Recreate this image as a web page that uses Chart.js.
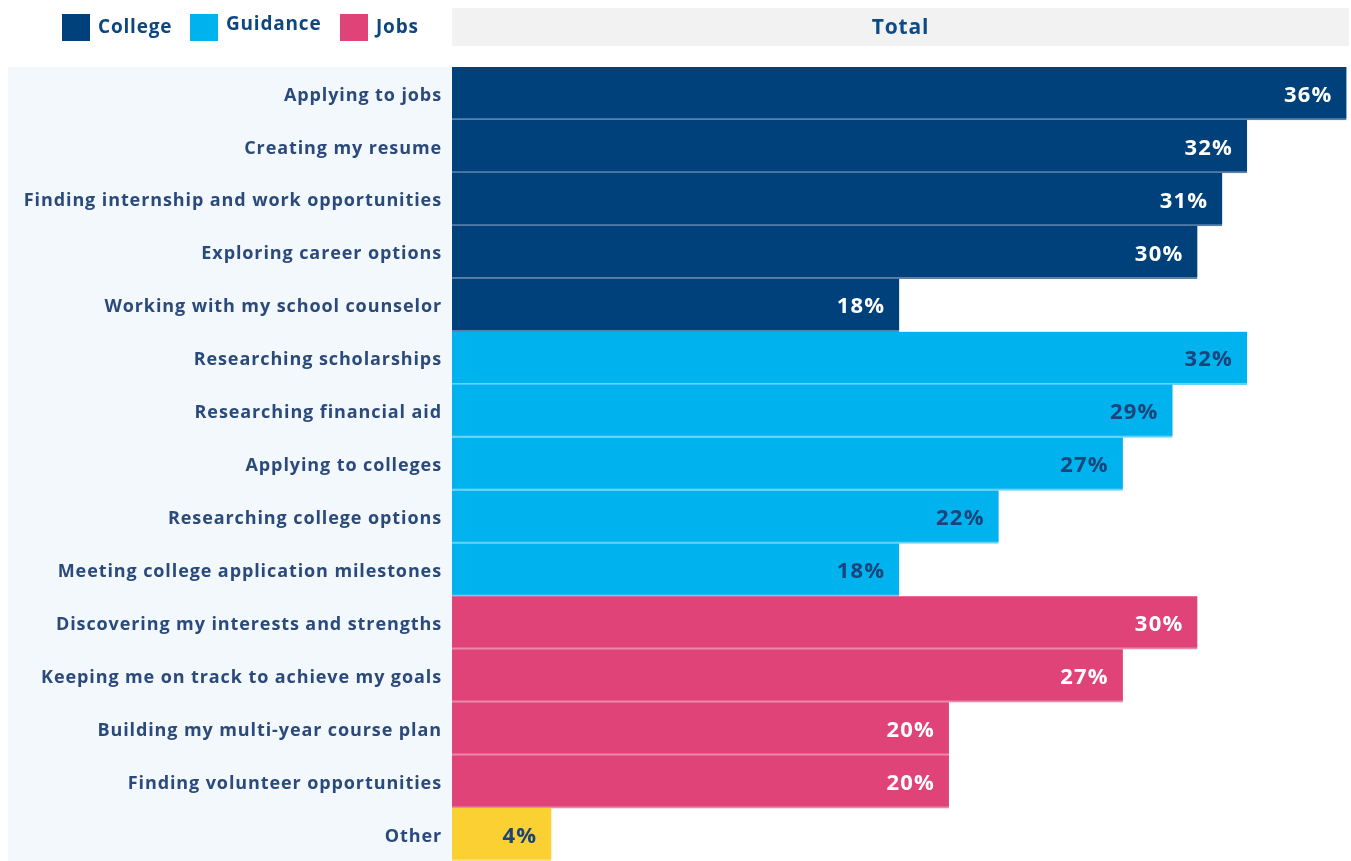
<!DOCTYPE html>
<html>
<head>
<meta charset="utf-8">
<script src="https://cdn.jsdelivr.net/npm/chart.js@4/dist/chart.umd.min.js"></script>
<style>
  html, body { margin: 0; padding: 0; background: #ffffff; overflow: hidden; }
  #wrap { width: 1351px; height: 861px; position: relative; }
</style>
</head>
<body>
<div id="wrap"><canvas id="chart" width="1351" height="861"></canvas></div>
<script>
// Survey topics, one bar each, grouped by theme
const categories = [
  'Applying to jobs',
  'Creating my resume',
  'Finding internship and work opportunities',
  'Exploring career options',
  'Working with my school counselor',
  'Researching scholarships',
  'Researching financial aid',
  'Applying to colleges',
  'Researching college options',
  'Meeting college application milestones',
  'Discovering my interests and strengths',
  'Keeping me on track to achieve my goals',
  'Building my multi-year course plan',
  'Finding volunteer opportunities',
  'Other'
];
const totals = [36, 32, 31, 30, 18, 32, 29, 27, 22, 18, 30, 27, 20, 20, 4];
const groups = ['College', 'College', 'College', 'College', 'College',
  'Guidance', 'Guidance', 'Guidance', 'Guidance', 'Guidance',
  'Jobs', 'Jobs', 'Jobs', 'Jobs', 'Other'];
const legendNames = ['College', 'Guidance', 'Jobs'];
const panelTitle = 'Total';

const FONT = '"Open Sans", "Noto Sans", sans-serif';
const fill = { College: '#00417b', Guidance: '#00b3ef', Jobs: '#df4377', Other: '#fad032' };
const edge = { College: '#5a80ab', Guidance: '#63d2f7', Jobs: '#ec88a8', Other: '#fbe07a' };
const valueInk = { College: '#ffffff', Guidance: '#1a447a', Jobs: '#ffffff', Other: '#1a447a' };

// background panel behind the category labels, the header strip and the legend
const framePlugin = {
  id: 'frame',
  beforeDraw(chart) {
    const { ctx, chartArea } = chart;
    ctx.save();
    ctx.fillStyle = '#f3f8fc';
    ctx.fillRect(8, chartArea.top, chartArea.left - 8, chartArea.bottom - chartArea.top);
    ctx.fillStyle = '#f2f2f2';
    ctx.fillRect(chartArea.left, 8, chartArea.right - chartArea.left, 38);
    ctx.letterSpacing = '0.8px';
    ctx.fillStyle = '#0f4a84';
    ctx.font = '700 21px ' + FONT;
    ctx.textAlign = 'center';
    ctx.textBaseline = 'middle';
    ctx.fillText(panelTitle, (chartArea.left + chartArea.right) / 2, 28);

    // legend swatches
    const xs = [62, 190, 340];
    ctx.font = '700 19px ' + FONT;
    ctx.textAlign = 'left';
    legendNames.forEach((name, i) => {
      ctx.fillStyle = fill[name];
      ctx.fillRect(xs[i], 14, 28, 27);
      ctx.fillStyle = '#0e4680';
      ctx.fillText(name, xs[i] + 36, i === 1 ? 25 : 28);
    });
    ctx.restore();
    // slightly tracked lettering for the category labels drawn next
    ctx.letterSpacing = '0.9px';
  },
  afterDraw(chart) {
    chart.ctx.letterSpacing = '0px';
  }
};

// percentage labels inside the end of each bar
const valueLabels = {
  id: 'valueLabels',
  afterDatasetsDraw(chart) {
    const { ctx } = chart;
    const meta = chart.getDatasetMeta(0);
    ctx.save();
    ctx.letterSpacing = '1.2px';
    ctx.font = '700 22px ' + FONT;
    ctx.textAlign = 'right';
    ctx.textBaseline = 'middle';
    meta.data.forEach((bar, i) => {
      ctx.fillStyle = valueInk[groups[i]];
      ctx.fillText(totals[i] + '%', bar.x - 14, bar.y + 2);
    });
    ctx.restore();
  }
};

new Chart(document.getElementById('chart'), {
  type: 'bar',
  data: {
    labels: categories,
    datasets: [{
      data: totals,
      backgroundColor: groups.map(g => fill[g]),
      borderColor: groups.map(g => edge[g]),
      borderWidth: { top: 0, right: 0, bottom: 2, left: 0 },
      borderSkipped: false,
      categoryPercentage: 1,
      barPercentage: 1
    }]
  },
  options: {
    indexAxis: 'y',
    responsive: false,
    animation: false,
    layout: { padding: { left: 8, top: 67, right: 2, bottom: 0 } },
    plugins: { legend: { display: false }, tooltip: { enabled: false } },
    scales: {
      x: { display: false, min: 0, max: 36.1 },
      y: {
        grid: { display: false, drawTicks: false },
        border: { display: false },
        ticks: {
          color: '#2b4a7c',
          font: { family: FONT, size: 18, weight: '700' },
          padding: 10,
          labelOffset: 2
        },
        afterFit(scale) {
          scale.width = 444;
          scale.paddingTop = 0;
          scale.paddingBottom = 0;
        }
      }
    }
  },
  plugins: [framePlugin, valueLabels]
});
</script>
</body>
</html>
